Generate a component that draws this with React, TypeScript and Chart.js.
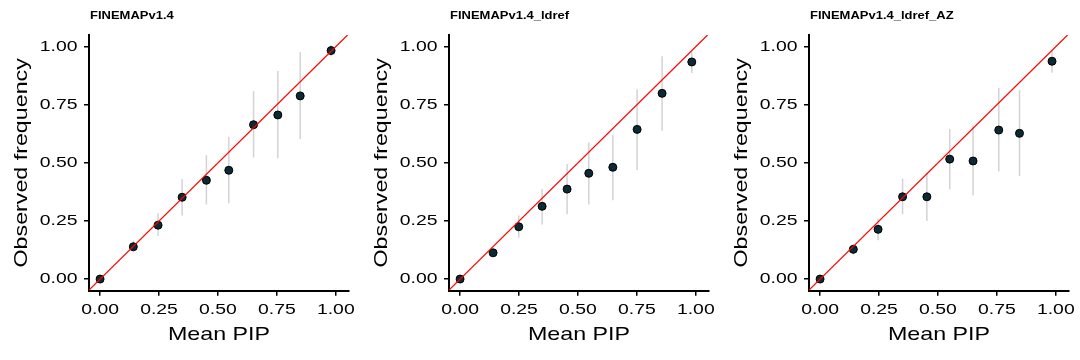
import React, { useEffect, useRef } from 'react';
import { Chart, registerables } from 'chart.js';

Chart.register(...registerables);

// ---------- data ----------
const PANEL_TITLES = ['FINEMAPv1.4', 'FINEMAPv1.4_ldref', 'FINEMAPv1.4_ldref_AZ'];
const TICK_VALUES = [0, 0.25, 0.5, 0.75, 1];
const X_LABEL = 'Mean PIP';
const Y_LABEL = 'Observed frequency';
const X_RANGE = [-0.047, 1.056];
const Y_RANGE = [-0.05, 1.05];

// FINEMAPv1.4
const MEAN_PIP_1 = [0.0, 0.141, 0.246, 0.348, 0.451, 0.546, 0.651, 0.754, 0.849, 0.98];
const OBS_FREQ_1 = [0.0, 0.139, 0.232, 0.352, 0.425, 0.468, 0.664, 0.706, 0.788, 0.983];
const LOWER_1 = [0.0, 0.118, 0.185, 0.274, 0.321, 0.326, 0.523, 0.52, 0.601, 0.958];
const UPPER_1 = [0.0, 0.165, 0.283, 0.43, 0.533, 0.611, 0.809, 0.895, 0.977, 1.006];

// FINEMAPv1.4_ldref
const MEAN_PIP_2 = [0.0, 0.14, 0.249, 0.348, 0.454, 0.546, 0.648, 0.751, 0.857, 0.983];
const OBS_FREQ_2 = [0.0, 0.113, 0.225, 0.313, 0.387, 0.455, 0.481, 0.644, 0.799, 0.934];
const LOWER_2 = [0.0, 0.108, 0.178, 0.235, 0.279, 0.321, 0.339, 0.469, 0.638, 0.886];
const UPPER_2 = [0.0, 0.118, 0.274, 0.387, 0.495, 0.588, 0.62, 0.817, 0.959, 0.978];

// FINEMAPv1.4_ldref_AZ
const MEAN_PIP_3 = [0.0, 0.141, 0.246, 0.35, 0.453, 0.55, 0.649, 0.758, 0.846, 0.984];
const OBS_FREQ_3 = [0.0, 0.128, 0.214, 0.354, 0.354, 0.516, 0.508, 0.641, 0.627, 0.937];
const LOWER_3 = [0.0, 0.106, 0.167, 0.279, 0.25, 0.386, 0.36, 0.463, 0.443, 0.888];
const UPPER_3 = [0.0, 0.151, 0.261, 0.433, 0.459, 0.646, 0.66, 0.823, 0.814, 0.981];

const PANELS = [
  { title: PANEL_TITLES[0], xs: MEAN_PIP_1, ys: OBS_FREQ_1, lo: LOWER_1, hi: UPPER_1 },
  { title: PANEL_TITLES[1], xs: MEAN_PIP_2, ys: OBS_FREQ_2, lo: LOWER_2, hi: UPPER_2 },
  { title: PANEL_TITLES[2], xs: MEAN_PIP_3, ys: OBS_FREQ_3, lo: LOWER_3, hi: UPPER_3 },
];

const FONT = "'Liberation Sans', Arial, Helvetica, sans-serif";
const TEXT_STRETCH = 1.25;

type PanelData = { title: string; xs: number[]; ys: number[]; lo: number[]; hi: number[] };

function makePlugins(panel: PanelData) {
  // widen glyphs along the text direction, as in the reference rendering
  const wideText = {
    id: 'wideText',
    beforeDraw(chart: any) {
      const ctx = chart.ctx;
      if (ctx.__wide) return;
      const orig = ctx.fillText;
      ctx.fillText = function (text: string, x: number, y: number, maxWidth?: number) {
        this.save();
        this.scale(TEXT_STRETCH, 1);
        if (maxWidth === undefined) orig.call(this, text, x / TEXT_STRETCH, y);
        else orig.call(this, text, x / TEXT_STRETCH, y, maxWidth / TEXT_STRETCH);
        this.restore();
      };
      ctx.__wide = true;
    },
  };
  const errorBars = {
    id: 'errorBars',
    beforeDatasetsDraw(chart: any) {
      const { ctx, scales } = chart;
      const x = scales.x;
      const y = scales.y;
      ctx.save();
      ctx.strokeStyle = '#d3d3d3';
      ctx.lineWidth = 1.5;
      panel.xs.forEach((v, i) => {
        if (panel.hi[i] - panel.lo[i] <= 0) return;
        const px = x.getPixelForValue(v);
        ctx.beginPath();
        ctx.moveTo(px, y.getPixelForValue(panel.lo[i]));
        ctx.lineTo(px, y.getPixelForValue(panel.hi[i]));
        ctx.stroke();
      });
      ctx.restore();
    },
  };
  const title = {
    id: 'panelTitle',
    afterDraw(chart: any) {
      const { ctx, chartArea } = chart;
      ctx.save();
      ctx.font = `bold 10.4px ${FONT}`;
      ctx.fillStyle = '#000';
      ctx.textAlign = 'left';
      ctx.textBaseline = 'middle';
      ctx.fillText(panel.title, chartArea.left + 1, 16.5);
      ctx.restore();
    },
  };
  return [wideText, errorBars, title];
}

function Panel({ panel }: { panel: PanelData }) {
  const ref = useRef<HTMLCanvasElement | null>(null);
  useEffect(() => {
    if (!ref.current) return;
    const setTicks = (s: any) => {
      s.ticks = TICK_VALUES.map((v) => ({ value: v }));
    };
    const commonGrid = {
      display: true,
      drawOnChartArea: false,
      drawTicks: true,
      tickLength: 5,
      color: '#000',
      lineWidth: 1.5,
    };
    const chart = new Chart(ref.current, {
      type: 'scatter',
      data: {
        datasets: [
          {
            type: 'line',
            data: [
              { x: X_RANGE[0], y: X_RANGE[0] },
              { x: Y_RANGE[1], y: Y_RANGE[1] },
            ],
            borderColor: '#ff0000',
            borderWidth: 1.2,
            pointRadius: 0,
            fill: false,
            tension: 0,
            order: 0,
          } as any,
          {
            type: 'scatter',
            data: panel.xs.map((x, i) => ({ x, y: panel.ys[i] })),
            pointRadius: 4,
            pointBackgroundColor: '#0c2a33',
            pointBorderColor: '#000',
            pointBorderWidth: 1,
            order: 1,
          } as any,
        ],
      },
      options: {
        animation: false,
        responsive: false,
        events: [],
        layout: { padding: { top: 35, right: 11, left: 0, bottom: 0 } },
        plugins: { legend: { display: false }, tooltip: { enabled: false }, title: { display: false } },
        scales: {
          x: {
            type: 'linear',
            min: X_RANGE[0],
            max: X_RANGE[1],
            afterBuildTicks: setTicks,
            afterFit: (s: any) => {
              s.height = 69.3;
            },
            ticks: {
              callback: (v: any) => Number(v).toFixed(2),
              font: { family: FONT, size: 15.5 },
              color: '#000',
              padding: 4.7,
              maxRotation: 0,
              autoSkip: false,
            },
            grid: commonGrid,
            border: { display: true, color: '#000', width: 2 },
            title: {
              display: true,
              text: X_LABEL,
              color: '#000',
              font: { family: FONT, size: 18.6 },
              padding: { top: 0, bottom: 13.8 },
            },
          },
          y: {
            type: 'linear',
            min: Y_RANGE[0],
            max: Y_RANGE[1],
            afterBuildTicks: setTicks,
            afterFit: (s: any) => {
              s.width = 89;
            },
            ticks: {
              callback: (v: any) => Number(v).toFixed(2),
              font: { family: FONT, size: 15.5 },
              color: '#000',
              padding: 6.5,
              autoSkip: false,
            },
            grid: commonGrid,
            border: { display: true, color: '#000', width: 2 },
            title: {
              display: true,
              text: Y_LABEL,
              color: '#000',
              font: { family: FONT, size: 18.6 },
              padding: { top: 11.2, bottom: 0 },
            },
          },
        },
      } as any,
      plugins: makePlugins(panel) as any,
    });
    return () => chart.destroy();
  }, [panel]);
  return (
    <canvas
      ref={ref}
      width={360}
      height={360}
      style={{ display: 'block', width: 360, height: 360 }}
    />
  );
}

export default function App() {
  useEffect(() => {
    document.body.style.margin = '0';
  }, []);
  return (
    <div
      style={{
        position: 'absolute',
        left: 0,
        top: 0,
        width: 1080,
        height: 360,
        display: 'flex',
        background: '#fff',
      }}
    >
      {PANELS.map((p) => (
        <Panel key={p.title} panel={p} />
      ))}
    </div>
  );
}
